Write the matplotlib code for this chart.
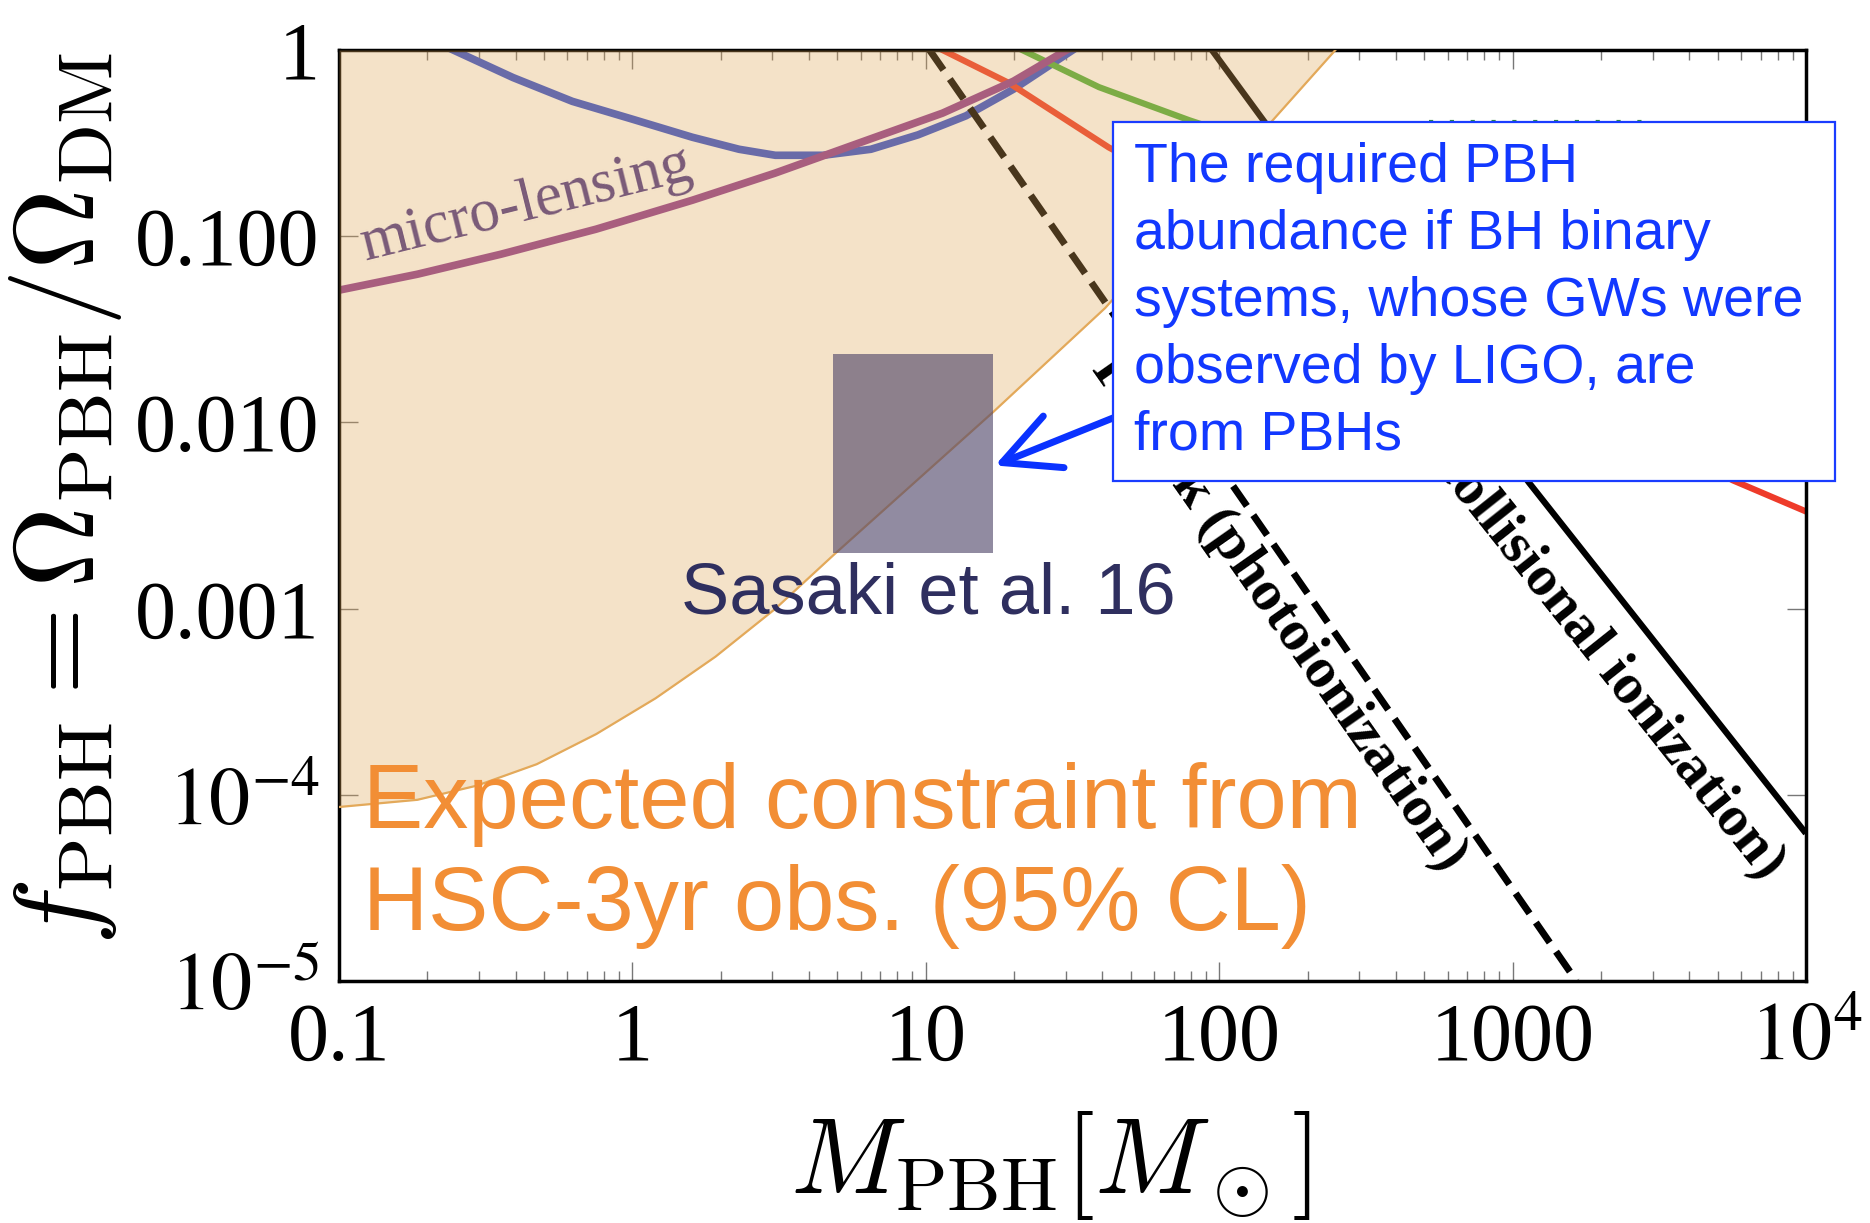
import matplotlib
matplotlib.use("Agg")
import matplotlib.pyplot as plt
from matplotlib.patches import Rectangle
from matplotlib.ticker import NullFormatter

# constraint curves (M in solar masses, f = Omega_PBH / Omega_DM)
hsc_m = [0.1, 0.185, 0.295, 0.472, 0.753, 1.20, 1.92, 3.07, 4.90, 17.0, 40.9, 249]
hsc_f = [8.6e-5, 9.4e-5, 1.12e-4, 1.46e-4, 2.12e-4, 3.30e-4, 5.52e-4, 9.98e-4,
         1.97e-3, 1.14e-2, 4.12e-2, 1.0]

blue_m = [0.245, 0.392, 0.624, 1.0, 1.6, 2.31, 3.07, 4.47, 6.5, 9.4, 13.7, 19.9, 31.7]
blue_f = [1.0, 0.711, 0.53, 0.425, 0.34, 0.293, 0.272, 0.272, 0.293, 0.35, 0.443,
          0.616, 1.0]

lens_m = [0.1, 0.185, 0.356, 0.751, 1.6, 3.06, 5.9, 11.4, 19.9, 30.2]
lens_f = [0.0513, 0.0625, 0.080, 0.109, 0.156, 0.218, 0.316, 0.458, 0.68, 1.0]

photo_m = [10.3, 103, 1650]
photo_f = [1.0, 5.45e-3, 1e-5]

coll_m = [94.4, 1137, 9840]
coll_f = [1.0, 4.75e-3, 6.4e-5]

red_m = [11.4, 19.2, 42, 5640, 9840]
red_f = [1.0, 0.665, 0.30, 4.88e-3, 3.36e-3]

green_m = [21.3, 38.9, 78.9, 150]
green_f = [1.0, 0.632, 0.42, 0.30]

green_dot_m = [520, 2900]
green_dot_f = [0.41, 0.41]

sasaki_m = (4.83, 16.9)
sasaki_f = (2.0e-3, 2.32e-2)

xtick_vals = [0.1, 1, 10, 100, 1000, 1e4]
xtick_labels = ['0.1', '1', '10', '100', '1000', r'$10^4$']
ytick_vals = [1e-5, 1e-4, 1e-3, 1e-2, 1e-1, 1]
ytick_labels = [r'$10^{-5}$', r'$10^{-4}$', '0.001', '0.010', '0.100', '1']

box_lines = ["The required PBH", "abundance if BH binary", "systems, whose GWs were",
             "observed by LIGO, are", "from PBHs"]
hsc_lines = ["Expected constraint from", "HSC-3yr obs. (95% CL)"]

W, H = 1870, 1223


def px(x, y):
    # pixel position in the picture -> figure fraction
    return x / W, 1 - y / H


plt.rcParams['font.family'] = ['Liberation Serif', 'DejaVu Serif']
plt.rcParams['mathtext.fontset'] = 'stix'

fig = plt.figure(figsize=(W / 100, H / 100), dpi=100)
l, b = px(339, 981)
ax = fig.add_axes([l, b, (1806 - 339) / W, (981 - 50) / H])
ax.set_xscale('log')
ax.set_yscale('log')
ax.set_xlim(0.1, 1e4)
ax.set_ylim(1e-5, 1)

ax.plot(blue_m, blue_f, color='#2f4fd0', lw=5.5, zorder=2, solid_joinstyle='round')
ax.plot(lens_m, lens_f, color='#8e3b92', lw=5.5, zorder=2.1, solid_joinstyle='round')
ax.plot(red_m, red_f, color='#ee3b2a', lw=4.5, zorder=2)
ax.plot(green_m, green_f, color='#4caf3c', lw=4.5, zorder=2)
ax.plot(green_dot_m, green_dot_f, color='#2e8b3a', lw=3, ls=(0, (1, 4)), zorder=2)
ax.plot(photo_m, photo_f, color='black', lw=5, ls=(0, (3.5, 1.6)), zorder=2)
ax.plot(coll_m, coll_f, color='black', lw=4.5, zorder=2)

# HSC expected region, laid over the lines
ax.fill_between(hsc_m, hsc_f, 1, color='#e0a758', alpha=0.33, lw=0, zorder=3)
ax.plot(hsc_m, hsc_f, color='#e3a95a', lw=1.6, zorder=3.2)

ax.add_patch(Rectangle((sasaki_m[0], sasaki_f[0]), sasaki_m[1] - sasaki_m[0],
                       sasaki_f[1] - sasaki_f[0], facecolor='#51476a', alpha=0.63,
                       lw=0, zorder=4))

ax.text(0.1236, 0.0743, 'micro-lensing', rotation=14, rotation_mode='anchor',
        ha='left', va='baseline', fontsize=44, color='#7a5a78', zorder=3.5)
ax.text(640, 4.2e-5, 'Planck (photoionization)', rotation=-55, rotation_mode='anchor',
        ha='right', va='center', fontsize=42, fontweight='bold', color='black', zorder=5)
ax.text(7800, 3.8e-5, 'Planck (collisional ionization)', rotation=-51.5,
        rotation_mode='anchor', ha='right', va='center', fontsize=42,
        fontweight='bold', color='black', zorder=5)

ax.annotate('', xy=(17.2, 5.87e-3), xycoords='data', xytext=px(1113, 418),
            textcoords='figure fraction',
            arrowprops=dict(arrowstyle='->,head_length=1.0,head_width=0.5',
                            mutation_scale=40, lw=5, color='#0a32ff',
                            shrinkA=0, shrinkB=0, capstyle='round'),
            zorder=7, annotation_clip=False)

ax.set_xticks(xtick_vals)
ax.set_xticklabels(xtick_labels)
ax.set_yticks(ytick_vals)
ax.set_yticklabels(ytick_labels)
ax.xaxis.set_minor_formatter(NullFormatter())
ax.yaxis.set_minor_formatter(NullFormatter())
ax.tick_params(which='both', direction='in', top=True, right=True, color='#777777',
               width=1, labelsize=59)
ax.tick_params(which='major', length=14)
ax.tick_params(which='minor', length=7)
ax.tick_params(axis='x', pad=15)
ax.tick_params(axis='y', pad=14)
for side in ax.spines.values():
    side.set_linewidth(2.5)
    side.set_color('black')

fig.text(*px(66, 498), r'$f_{\rm PBH} = \Omega_{\rm PBH}/\Omega_{\rm DM}$', rotation=90,
         ha='center', va='center', fontsize=81, math_fontfamily='cm')
fig.text(*px(1050, 1165), r'$M_{\rm PBH}[M_\odot]$', ha='center', va='center',
         fontsize=78, math_fontfamily='cm')

# LIGO note box, sticks out past the right edge of the axes
x0, y0 = px(1113, 481)
x1, y1 = px(1835, 122)
fig.add_artist(Rectangle((x0, y0), x1 - x0, y1 - y0, transform=fig.transFigure,
                         facecolor='white', edgecolor='#1a3cff', lw=1.6, zorder=2))
for i, line in enumerate(box_lines):
    fig.text(*px(1134, 182 + 67 * i), line, ha='left', va='baseline', fontsize=40,
             family='Liberation Sans', color='#1238ff', zorder=3)

for i, line in enumerate(hsc_lines):
    fig.text(*px(363, 828 + 102 * i), line, ha='left', va='baseline', fontsize=65,
             family='Liberation Sans', color='#f28e35', zorder=3)

fig.text(*px(681, 613), 'Sasaki et al. 16', ha='left', va='baseline', fontsize=52,
         family='Liberation Sans', color='#2f2f5f', zorder=3)

fig.savefig('out.png', dpi=100)
